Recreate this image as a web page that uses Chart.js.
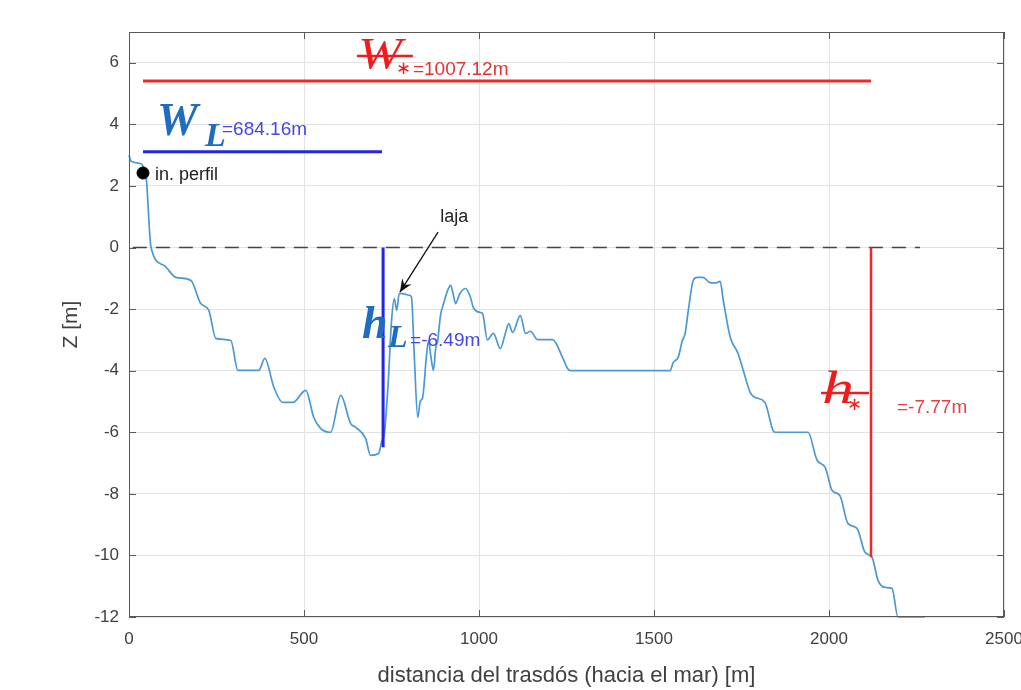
<!DOCTYPE html>
<html>
<head>
<meta charset="utf-8">
<script src="https://cdn.jsdelivr.net/npm/chart.js@4/dist/chart.umd.min.js"></script>
<style>
  html, body { margin: 0; padding: 0; background: #fff; }
  #wrap { width: 1021px; height: 690px; }
</style>
</head>
<body>
<div id="wrap"><canvas id="profileChart"></canvas></div>
<script>
// profile: distance [m] and Z [m]
const profileDist = [0, 6, 34, 45, 49, 63, 100, 134, 177, 205, 228, 248, 291, 311, 371, 388, 414, 439, 468, 505,
  528, 548, 576, 605, 633, 648, 676, 690, 713, 722, 730, 740, 750, 758, 765, 772, 782, 800, 807, 815, 825, 832,
  839, 850, 856, 862, 870, 876, 882, 890, 899, 910, 919, 926, 933, 945, 962, 975, 984, 1000, 1010, 1024, 1041,
  1061, 1075, 1085, 1096, 1118, 1133, 1147, 1167, 1210, 1240, 1253, 1261, 1546, 1555, 1569, 1581, 1589, 1598,
  1612, 1623, 1640, 1660, 1675, 1689, 1698, 1718, 1740, 1755, 1775, 1789, 1817, 1840, 1846, 1940, 1966, 1989,
  2009, 2031, 2054, 2080, 2103, 2123, 2140, 2160, 2180, 2197, 2274];
const profileZ = [3.0, 2.8, 2.72, 2.5, 2.3, 0.0, -0.58, -0.97, -1.07, -1.82, -2.04, -2.95, -3.02, -3.99, -3.99, -3.6,
  -4.54, -5.03, -5.03, -4.64, -5.52, -5.88, -6.0, -4.8, -5.71, -5.84, -6.2, -6.75, -6.69, -6.3, -6.0, -4.5, -2.4,
  -1.66, -2.04, -1.5, -1.5, -1.55, -1.6, -3.5, -5.52, -5.0, -4.87, -3.5, -3.02, -3.5, -3.99, -3.3, -3.02, -2.2,
  -1.82, -1.4, -1.23, -1.5, -1.82, -1.5, -1.33, -1.6, -1.95, -2.1, -2.14, -3.0, -2.79, -3.28, -2.8, -2.47, -2.76,
  -2.21, -2.79, -2.72, -2.99, -2.99, -3.6, -3.93, -4.0, -4.0, -3.73, -3.57, -3.02, -2.79, -2.04, -1.07, -0.97,
  -0.97, -1.14, -1.15, -1.1, -1.72, -2.92, -3.44, -3.99, -4.71, -4.87, -5.03, -5.94, -6.0, -6.0, -6.91, -7.14,
  -7.89, -8.05, -8.96, -9.12, -9.9, -10.06, -10.81, -11.04, -11.07, -12.0, -12.0];

// reference lines and markers
const zeroLineX = [11, 2260];
const wStarX = [40, 2120], wStarZ = 5.41;
const wLX = [40, 723], wLZ = 3.11;
const hLX = 726, hLZ = [0, -6.49];
const hStarX = 2120, hStarZ = [0, -10.06];
const startPoint = [40, 2.42];

const xTicks = [0, 500, 1000, 1500, 2000, 2500];
const yTicks = [6, 4, 2, 0, -2, -4, -6, -8, -10, -12];

const textFont = '"Liberation Sans", Arial, sans-serif';
const mathFont = '"Liberation Serif", "Times New Roman", serif';

function pts(xs, ys) { return xs.map((x, i) => ({ x: x, y: ys[i] })); }

// draw text stretched horizontally (math glyphs in the picture are wide)
function wideText(ctx, txt, x, y, sx) {
  ctx.save();
  ctx.translate(x, y);
  ctx.scale(sx, 1);
  ctx.fillText(txt, 0, 0);
  ctx.restore();
}

// labels, lines and ticks drawn on top of the datasets
const annotations = {
  id: 'annotations',
  afterDatasetsDraw(chart) {
    const ctx = chart.ctx, xs = chart.scales.x, ys = chart.scales.y;
    const px = v => xs.getPixelForValue(v), py = v => ys.getPixelForValue(v);
    const ca = chart.chartArea;
    ctx.save();

    // box and inside tick marks
    ctx.strokeStyle = '#595959';
    ctx.lineWidth = 1;
    ctx.strokeRect(ca.left + 0.5, ca.top + 0.5, ca.right - ca.left - 1, ca.bottom - ca.top - 1);
    ctx.beginPath();
    xTicks.forEach(t => {
      const x = Math.round(px(t)) + 0.5;
      ctx.moveTo(x, ca.bottom); ctx.lineTo(x, ca.bottom - 7);
      ctx.moveTo(x, ca.top); ctx.lineTo(x, ca.top + 7);
    });
    yTicks.forEach(t => {
      const y = Math.round(py(t)) + 0.5;
      ctx.moveTo(ca.left, y); ctx.lineTo(ca.left + 7, y);
      ctx.moveTo(ca.right, y); ctx.lineTo(ca.right - 7, y);
    });
    ctx.stroke();

    ctx.textAlign = 'left';
    ctx.textBaseline = 'alphabetic';

    // W* label
    let x = px(654), y = py(5.83);
    ctx.fillStyle = '#ee1c1c';
    ctx.font = 'italic 44px ' + mathFont;
    wideText(ctx, 'W', x, y, 1.2);
    ctx.strokeStyle = '#ee1c1c';
    ctx.lineWidth = 2.5;
    ctx.beginPath(); ctx.moveTo(x - 1, y - 12); ctx.lineTo(x + 55, y - 12); ctx.stroke();
    ctx.font = '18px "DejaVu Sans"';
    ctx.textBaseline = 'middle';
    ctx.fillText('\u2217', x + 38, y + 1);
    ctx.textBaseline = 'alphabetic';
    ctx.fillStyle = '#e83030';
    ctx.font = '19px ' + textFont;
    ctx.fillText('=1007.12m', x + 55, y + 7);

    // W_L label
    x = px(80); y = py(3.65);
    ctx.fillStyle = '#1f6cc0';
    ctx.font = 'bold italic 46px ' + mathFont;
    ctx.fillText('W', x, y);
    ctx.font = 'bold italic 34px ' + mathFont;
    ctx.fillText('L', x + 48, y + 11);
    ctx.fillStyle = '#4646e8';
    ctx.font = '19px ' + textFont;
    ctx.fillText('=684.16m', x + 65, y);

    // h_L label
    x = px(666); y = py(-2.94);
    ctx.fillStyle = '#1f6cc0';
    ctx.font = 'bold italic 46px ' + mathFont;
    ctx.fillText('h', x, y);
    ctx.font = 'bold italic 32px ' + mathFont;
    ctx.fillText('L', x + 26, y + 9);
    ctx.fillStyle = '#4646e8';
    ctx.font = '19px ' + textFont;
    ctx.fillText('=-6.49m', x + 48, y + 8);

    // h* label
    x = px(1980); y = py(-5.05);
    ctx.fillStyle = '#ee1c1c';
    ctx.font = 'italic 46px ' + mathFont;
    wideText(ctx, 'h', x, y, 1.4);
    ctx.beginPath(); ctx.moveTo(x - 1, y - 10); ctx.lineTo(x + 47, y - 10); ctx.stroke();
    ctx.font = '18px "DejaVu Sans"';
    ctx.textBaseline = 'middle';
    ctx.fillText('\u2217', x + 25, y + 2);
    ctx.textBaseline = 'alphabetic';
    ctx.fillStyle = '#e84040';
    ctx.font = '19px ' + textFont;
    ctx.fillText('=-7.77m', x + 75, y + 10);

    // start of profile
    ctx.fillStyle = '#222';
    ctx.font = '18px ' + textFont;
    ctx.fillText('in. perfil', px(startPoint[0]) + 12, py(startPoint[1]) + 7);

    // laja with arrow
    ctx.textAlign = 'center';
    ctx.fillText('laja', px(929), py(0.83));
    const x1 = px(883), y1 = py(0.5), x2 = px(774), y2 = py(-1.45);
    ctx.strokeStyle = '#111';
    ctx.lineWidth = 1.3;
    ctx.beginPath(); ctx.moveTo(x1, y1); ctx.lineTo(x2, y2); ctx.stroke();
    const a = Math.atan2(y2 - y1, x2 - x1), L = 14, w = 0.4;
    ctx.beginPath();
    ctx.moveTo(x2, y2);
    ctx.lineTo(x2 - L * Math.cos(a - w), y2 - L * Math.sin(a - w));
    ctx.lineTo(x2 - L * 0.6 * Math.cos(a), y2 - L * 0.6 * Math.sin(a));
    ctx.lineTo(x2 - L * Math.cos(a + w), y2 - L * Math.sin(a + w));
    ctx.closePath();
    ctx.fillStyle = '#111';
    ctx.fill();

    ctx.restore();
  }
};

const ctx = document.getElementById('profileChart').getContext('2d');
new Chart(ctx, {
  type: 'scatter',
  data: {
    datasets: [
      {
        label: 'perfil',
        data: pts(profileDist, profileZ),
        showLine: true,
        borderColor: '#4a98d4',
        borderWidth: 1.7,
        pointRadius: 0,
        cubicInterpolationMode: 'monotone',
        clip: 4,
        order: 5
      },
      {
        label: 'z=0',
        data: pts(zeroLineX, [0, 0]),
        showLine: true,
        borderColor: '#444',
        borderWidth: 1.6,
        borderDash: [14, 9],
        pointRadius: 0,
        order: 6
      },
      {
        label: 'W*',
        data: pts(wStarX, [wStarZ, wStarZ]),
        showLine: true,
        borderColor: '#f02828',
        borderWidth: 3,
        pointRadius: 0,
        order: 2
      },
      {
        label: 'W_L',
        data: pts(wLX, [wLZ, wLZ]),
        showLine: true,
        borderColor: '#2424e4',
        borderWidth: 3,
        pointRadius: 0,
        order: 2
      },
      {
        label: 'h_L',
        data: pts([hLX, hLX], hLZ),
        showLine: true,
        borderColor: '#2424e4',
        borderWidth: 3,
        pointRadius: 0,
        order: 2
      },
      {
        label: 'h*',
        data: pts([hStarX, hStarX], hStarZ),
        showLine: true,
        borderColor: '#f02828',
        borderWidth: 2.5,
        pointRadius: 0,
        order: 2
      },
      {
        label: 'in. perfil',
        data: [{ x: startPoint[0], y: startPoint[1] }],
        pointRadius: 6,
        pointBackgroundColor: '#000',
        pointBorderColor: '#000',
        order: 1
      }
    ]
  },
  options: {
    responsive: true,
    maintainAspectRatio: false,
    animation: false,
    layout: { padding: { top: 32, right: 17, left: 0, bottom: 0 } },
    plugins: {
      legend: { display: false },
      tooltip: { enabled: false }
    },
    scales: {
      x: {
        type: 'linear',
        min: 0,
        max: 2500,
        afterFit: s => { s.height = 73; s.paddingLeft = 0; s.paddingRight = 0; },
        afterBuildTicks: s => { s.ticks = xTicks.map(v => ({ value: v })); },
        ticks: {
          color: '#404040',
          font: { size: 17, family: textFont },
          padding: 12,
          maxRotation: 0,
          callback: v => String(v)
        },
        grid: { color: '#e3e3e3', drawTicks: false },
        border: { display: false },
        title: {
          display: true,
          text: 'distancia del trasdós (hacia el mar) [m]',
          color: '#404040',
          font: { size: 22, family: textFont },
          padding: { top: 0, bottom: 1 }
        }
      },
      y: {
        type: 'linear',
        min: -12,
        max: 7,
        afterFit: s => { s.width = 129; s.paddingTop = 0; s.paddingBottom = 0; },
        afterBuildTicks: s => { s.ticks = yTicks.map(v => ({ value: v })); },
        ticks: { color: '#404040', font: { size: 17, family: textFont }, padding: 10 },
        grid: { color: '#e3e3e3', drawTicks: false },
        border: { display: false },
        title: {
          display: true,
          text: 'Z [m]',
          color: '#404040',
          font: { size: 21, family: textFont },
          padding: { top: 59, bottom: 0 }
        }
      }
    }
  },
  plugins: [annotations]
});
</script>
</body>
</html>
